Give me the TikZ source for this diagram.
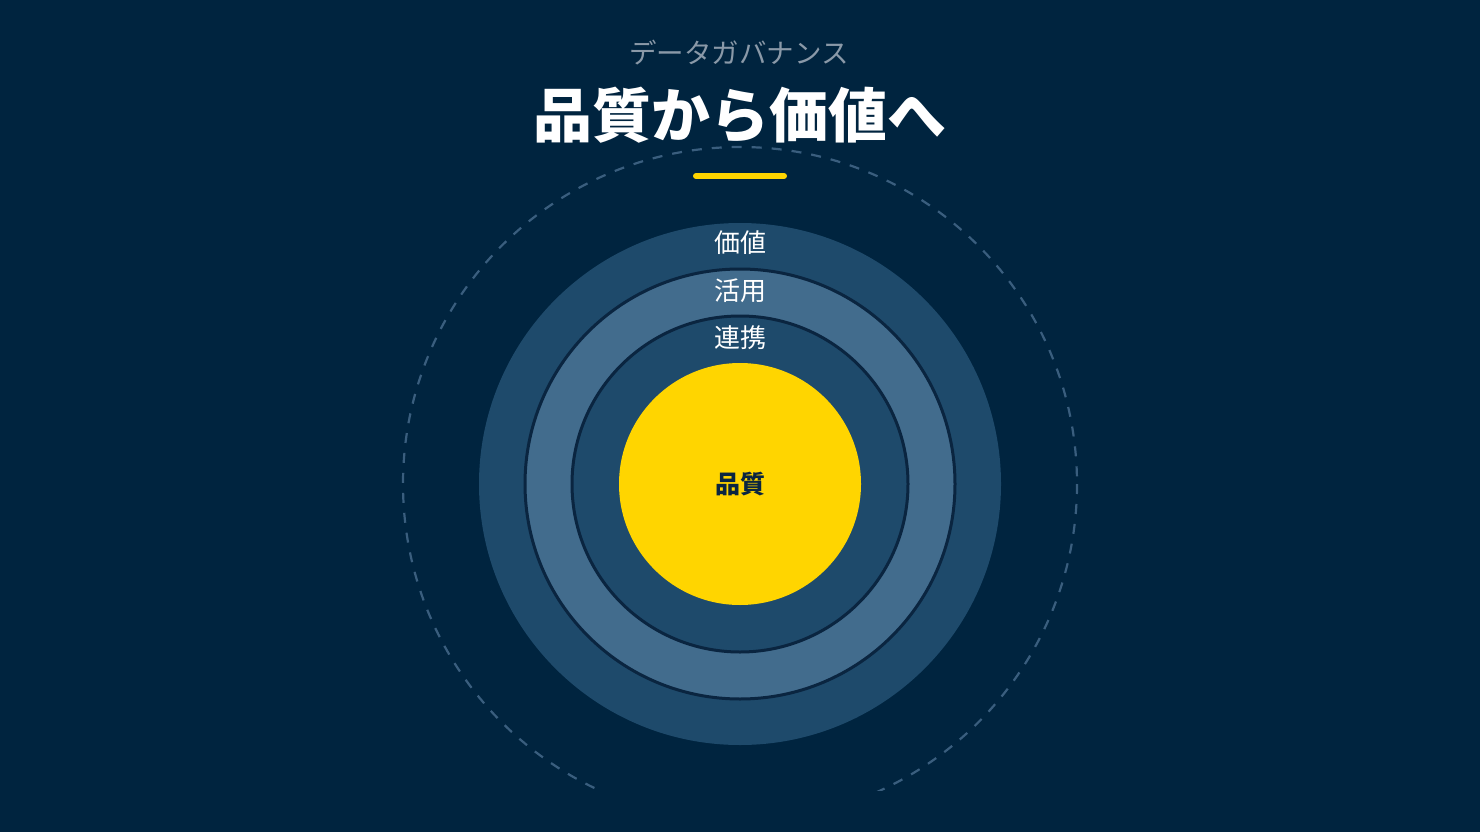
\documentclass[tikz,border=0pt]{standalone}
\usepackage{fontspec}
\newfontfamily\cjk{Noto Sans CJK JP}
\definecolor{bgc}{HTML}{00243F}
\definecolor{ringa}{HTML}{1E4A6B}
\definecolor{ringb}{HTML}{426C8D}
\definecolor{ringline}{HTML}{0A2540}
\definecolor{dashc}{HTML}{3A5E7E}
\definecolor{subc}{HTML}{8A99A8}
\definecolor{gold}{HTML}{FFD500}
\tikzset{
  ringlabel/.style={text=white,font=\cjk\fontsize{26}{30}\selectfont,inner sep=0pt},
  ringedge/.style={draw=ringline,line width=3pt},
}
\begin{document}
\begin{tikzpicture}[x=1pt,y=-1pt]
\fill[bgc] (0,0) rectangle (1480,832);
\useasboundingbox (0,0) rectangle (1480,832);
\coordinate (c) at (740,484);
\begin{scope}
\clip (0,0) rectangle (1480,790);
\draw[dashc,line width=2.2pt,dash pattern=on 10pt off 10pt] (c) circle[radius=337];
\end{scope}
\fill[ringa] (c) circle[radius=261];
\fill[ringb,ringedge] (c) circle[radius=215];
\fill[ringa,ringedge] (c) circle[radius=168];
\fill[gold] (c) circle[radius=121];
\node (sub) at (739,53) {\cjk\fontsize{27.5}{32}\selectfont\color{subc}データガバナンス};
\node (title) at (740,115) {\cjk\bfseries\fontsize{59}{66}\selectfont\color{white}品質から価値へ};
\coordinate (barl) at (696,176);
\coordinate (barr) at (784,176);
\draw[gold,line width=6pt,line cap=round] (barl) -- (barr);
\node[ringlabel] (kachi) at (740,243) {価値};
\node[ringlabel] (katsuyo) at (740,291) {活用};
\node[ringlabel] (renkei) at (740,338) {連携};
\node[inner sep=0pt,text=ringline,font=\cjk\bfseries\fontsize{25}{30}\selectfont] (hinshitsu) at (740,484) {品質};
\end{tikzpicture}
\end{document}
